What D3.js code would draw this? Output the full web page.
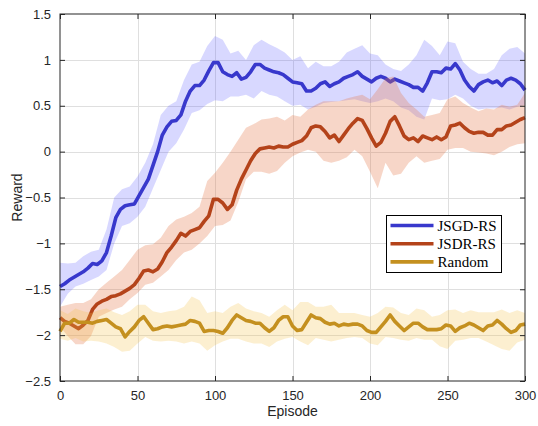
<!DOCTYPE html>
<html>
<head>
<meta charset="utf-8">
<script src="https://cdn.jsdelivr.net/npm/d3@7"></script>
<style>
  html, body { margin: 0; padding: 0; background: #fff; }
  svg { display: block; }
</style>
</head>
<body>
<svg id="chart" width="538" height="426"></svg>
<script>
// episodes for the mean curves (every 3) and for the shaded bands (every 5)
const lineEpisodes = d3.range(0, 301, 3);
const bandEpisodes = d3.range(0, 301, 5);

const seriesNames = ["JSGD-RS", "JSDR-RS", "Random"];

const jsgdMean = [
  -1.47, -1.44, -1.40, -1.37, -1.34, -1.31, -1.27, -1.22, -1.23, -1.19,
  -1.10, -0.92, -0.72, -0.63, -0.59, -0.58, -0.57, -0.48, -0.39, -0.30,
  -0.15, 0.00, 0.18, 0.27, 0.33, 0.34, 0.40, 0.55, 0.66, 0.72,
  0.72, 0.78, 0.88, 0.97, 0.97, 0.87, 0.84, 0.82, 0.86, 0.79,
  0.81, 0.87, 0.95, 0.95, 0.91, 0.89, 0.87, 0.86, 0.84, 0.80,
  0.76, 0.75, 0.74, 0.66, 0.66, 0.69, 0.74, 0.76, 0.71, 0.74,
  0.76, 0.80, 0.82, 0.84, 0.87, 0.82, 0.79, 0.76, 0.80, 0.82,
  0.80, 0.76, 0.79, 0.77, 0.75, 0.73, 0.70, 0.70, 0.66, 0.75,
  0.87, 0.87, 0.86, 0.91, 0.90, 0.96, 0.89, 0.78, 0.71, 0.66,
  0.73, 0.76, 0.78, 0.75, 0.77, 0.72, 0.78, 0.80, 0.78, 0.74,
  0.67
];
const jsgdUpper = [
  -1.21, -1.22, -1.21, -1.14, -1.09, -1.07, -0.85, -0.50, -0.41, -0.38,
  -0.27, -0.12, 0.08, 0.40, 0.50, 0.55, 0.78, 0.95, 0.98, 1.15,
  1.26, 1.22, 1.07, 1.10, 1.00, 1.16, 1.22, 1.17, 1.13, 1.08,
  1.00, 1.04, 0.91, 0.98, 0.93, 0.93, 0.98, 1.08, 1.12, 1.16,
  1.07, 1.05, 0.95, 0.90, 0.88, 0.95, 1.05, 1.22, 1.15, 1.05,
  1.20, 1.18, 0.98, 0.90, 0.85, 0.85, 0.90, 1.05, 1.12, 1.14,
  1.07
];
const jsgdLower = [
  -1.69, -1.55, -1.47, -1.44, -1.40, -1.36, -1.29, -1.00, -0.81, -0.78,
  -0.71, -0.60, -0.40, -0.20, 0.00, 0.09, 0.24, 0.42, 0.45, 0.52,
  0.56, 0.55, 0.60, 0.60, 0.62, 0.58, 0.66, 0.62, 0.60, 0.55,
  0.50, 0.51, 0.46, 0.49, 0.53, 0.54, 0.55, 0.56, 0.57, 0.55,
  0.53, 0.55, 0.58, 0.55, 0.48, 0.45, 0.38, 0.35, 0.58, 0.56,
  0.57, 0.62, 0.58, 0.50, 0.46, 0.47, 0.47, 0.48, 0.46, 0.49,
  0.51
];

const jsdrMean = [
  -1.81, -1.85, -1.87, -1.90, -1.93, -1.89, -1.84, -1.72, -1.66, -1.63,
  -1.61, -1.58, -1.57, -1.55, -1.52, -1.49, -1.45, -1.38, -1.30, -1.29,
  -1.31, -1.28, -1.20, -1.10, -1.04, -0.97, -0.89, -0.92, -0.87, -0.85,
  -0.83, -0.76, -0.70, -0.52, -0.52, -0.56, -0.63, -0.58, -0.42, -0.30,
  -0.20, -0.10, -0.02, 0.03, 0.04, 0.05, 0.04, 0.06, 0.05, 0.05,
  0.08, 0.10, 0.12, 0.17, 0.26, 0.28, 0.27, 0.22, 0.15, 0.18,
  0.11, 0.18, 0.25, 0.31, 0.36, 0.34, 0.25, 0.15, 0.06, 0.10,
  0.20, 0.33, 0.38, 0.28, 0.17, 0.13, 0.15, 0.11, 0.17, 0.15,
  0.13, 0.16, 0.13, 0.16, 0.28, 0.29, 0.31, 0.26, 0.22, 0.20,
  0.21, 0.21, 0.18, 0.18, 0.24, 0.24, 0.28, 0.29, 0.32, 0.35,
  0.37
];
const jsdrUpper = [
  -1.69, -1.67, -1.65, -1.65, -1.61, -1.50, -1.43, -1.36, -1.29, -1.18,
  -1.07, -1.02, -1.01, -0.94, -0.81, -0.74, -0.71, -0.67, -0.60, -0.32,
  -0.23, -0.12, 0.00, 0.13, 0.26, 0.30, 0.35, 0.36, 0.38, 0.34,
  0.40, 0.38, 0.46, 0.51, 0.55, 0.55, 0.55, 0.58, 0.60, 0.62,
  0.57, 0.68, 0.80, 0.82, 0.64, 0.53, 0.46, 0.38, 0.40, 0.42,
  0.57, 0.60, 0.53, 0.48, 0.44, 0.47, 0.46, 0.51, 0.49, 0.51,
  0.64
];
const jsdrLower = [
  -1.91, -2.01, -2.10, -2.10, -2.01, -1.80, -1.76, -1.72, -1.69, -1.61,
  -1.54, -1.45, -1.43, -1.36, -1.29, -1.18, -1.10, -1.07, -1.00, -0.92,
  -0.81, -0.80, -0.75, -0.55, -0.30, -0.22, -0.22, -0.24, -0.21, -0.12,
  -0.05, -0.01, 0.02, 0.00, -0.10, -0.12, -0.10, -0.06, 0.02, -0.05,
  -0.22, -0.40, -0.12, -0.26, -0.24, -0.12, -0.05, -0.12, -0.10, -0.08,
  0.02, 0.04, 0.04, 0.00, -0.01, -0.02, -0.04, 0.00, 0.05, 0.08,
  0.09
];

const randomMean = [
  -1.96, -1.87, -1.87, -1.83, -1.86, -1.86, -1.86, -1.87, -1.85, -1.84,
  -1.83, -1.87, -1.91, -1.93, -2.02, -1.96, -1.91, -1.84, -1.80, -1.87,
  -1.94, -1.93, -1.91, -1.90, -1.91, -1.90, -1.89, -1.88, -1.84, -1.85,
  -1.87, -1.96, -1.95, -1.95, -1.96, -1.98, -1.92, -1.84, -1.78, -1.81,
  -1.84, -1.85, -1.87, -1.87, -1.92, -1.96, -1.92, -1.84, -1.80, -1.80,
  -1.90, -1.95, -1.94, -1.86, -1.78, -1.81, -1.82, -1.86, -1.88, -1.87,
  -1.90, -1.88, -1.89, -1.88, -1.88, -1.90, -1.95, -1.97, -1.97, -1.91,
  -1.85, -1.78, -1.85, -1.90, -1.95, -1.91, -1.87, -1.87, -1.91, -1.94,
  -1.94, -1.94, -1.93, -1.89, -1.90, -1.96, -1.92, -1.90, -1.87, -1.89,
  -1.92, -1.95, -1.90, -1.89, -1.84, -1.88, -1.93, -1.97, -1.95, -1.89,
  -1.88
];
const randomUpper = [
  -1.73, -1.77, -1.71, -1.74, -1.76, -1.73, -1.71, -1.75, -1.78, -1.74,
  -1.67, -1.67, -1.74, -1.76, -1.74, -1.73, -1.69, -1.58, -1.62, -1.76,
  -1.74, -1.76, -1.69, -1.65, -1.71, -1.74, -1.76, -1.80, -1.73, -1.67,
  -1.73, -1.64, -1.64, -1.69, -1.69, -1.67, -1.76, -1.76, -1.76, -1.78,
  -1.80, -1.76, -1.69, -1.70, -1.76, -1.78, -1.71, -1.73, -1.80, -1.78,
  -1.73, -1.72, -1.76, -1.73, -1.75, -1.75, -1.75, -1.72, -1.76, -1.73,
  -1.76
];
const randomLower = [
  -2.04, -2.06, -2.03, -2.07, -2.06, -2.07, -2.09, -2.13, -2.18, -2.17,
  -2.09, -2.02, -2.06, -2.07, -2.06, -2.07, -2.09, -2.07, -2.09, -2.17,
  -2.11, -2.07, -2.04, -2.04, -2.07, -2.09, -2.09, -2.13, -2.07, -2.04,
  -2.02, -2.07, -2.11, -2.03, -2.05, -2.07, -2.05, -2.03, -2.02, -2.03,
  -2.09, -2.11, -2.02, -2.03, -2.05, -2.06, -2.03, -2.05, -2.05, -2.12,
  -2.15, -2.06, -2.05, -2.03, -2.03, -2.07, -2.11, -2.15, -2.17, -2.08,
  -2.05
];

const xTicks = [0, 50, 100, 150, 200, 250, 300];
const yTicks = [-2.5, -2, -1.5, -1, -0.5, 0, 0.5, 1, 1.5];

const series = [
  { name: seriesNames[0], mean: jsgdMean, upper: jsgdUpper, lower: jsgdLower,
    line: "#3838cc", band: "#5c5cff", bandOpacity: 0.24 },
  { name: seriesNames[1], mean: jsdrMean, upper: jsdrUpper, lower: jsdrLower,
    line: "#b4431a", band: "#e4774a", bandOpacity: 0.3 },
  { name: seriesNames[2], mean: randomMean, upper: randomUpper, lower: randomLower,
    line: "#c4901f", band: "#f2c24a", bandOpacity: 0.26 }
];

const margin = { top: 14, right: 13, bottom: 45, left: 60 };
const width = 538, height = 426;
const axisColor = "#262626";
const tickFont = "'Liberation Sans', Arial, Helvetica, sans-serif";

const x = d3.scaleLinear().domain([0, 300]).range([margin.left, width - margin.right]);
const y = d3.scaleLinear().domain([-2.5, 1.5]).range([height - margin.bottom, margin.top]);

const svg = d3.select("#chart");

// grid
const grid = svg.append("g").attr("stroke", "#dfdfdf").attr("stroke-width", 1);
grid.selectAll("line.vx").data(xTicks.slice(1, -1)).join("line")
  .attr("x1", d => Math.round(x(d)) + 0.5).attr("x2", d => Math.round(x(d)) + 0.5)
  .attr("y1", y(1.5)).attr("y2", y(-2.5));
grid.selectAll("line.hy").data(yTicks.slice(1, -1)).join("line")
  .attr("y1", d => Math.round(y(d)) + 0.5).attr("y2", d => Math.round(y(d)) + 0.5)
  .attr("x1", x(0)).attr("x2", x(300));

const plot = svg.append("g");

// bands then lines, one series at a time
series.forEach(s => {
  const area = d3.area()
    .x((d, i) => x(bandEpisodes[i]))
    .y0((d, i) => y(s.lower[i]))
    .y1((d, i) => y(s.upper[i]));
  plot.append("path")
    .datum(s.upper)
    .attr("fill", s.band)
    .attr("fill-opacity", s.bandOpacity)
    .attr("d", area);

  const line = d3.line()
    .x((d, i) => x(lineEpisodes[i]))
    .y(d => y(d));
  plot.append("path")
    .datum(s.mean)
    .attr("fill", "none")
    .attr("stroke", s.line)
    .attr("stroke-width", 3.6)
    .attr("stroke-linejoin", "round")
    .attr("d", line);
});

// axes box with inward ticks on all sides
const tickLen = 5;
const box = svg.append("g").attr("stroke", axisColor).attr("stroke-width", 1).attr("fill", "none");
box.append("rect")
  .attr("x", x(0)).attr("y", y(1.5))
  .attr("width", x(300) - x(0)).attr("height", y(-2.5) - y(1.5));

const xAxisBottom = d3.axisBottom(x).tickValues(xTicks).tickSizeInner(-tickLen).tickSizeOuter(0).tickPadding(10);
const xAxisTop = d3.axisTop(x).tickValues(xTicks).tickSizeInner(-tickLen).tickSizeOuter(0).tickFormat("");
const yAxisLeft = d3.axisLeft(y).tickValues(yTicks).tickSizeInner(-tickLen).tickSizeOuter(0).tickPadding(9)
  .tickFormat(d => d3.format("")(d));
const yAxisRight = d3.axisRight(y).tickValues(yTicks).tickSizeInner(-tickLen).tickSizeOuter(0).tickFormat("");

function styleAxis(g) {
  g.select(".domain").remove();
  g.selectAll(".tick line").attr("stroke", axisColor);
  g.selectAll(".tick text")
    .attr("fill", axisColor)
    .style("font-family", tickFont)
    .style("font-size", "13px");
}

svg.append("g").attr("transform", `translate(0,${y(-2.5)})`).call(xAxisBottom).call(styleAxis);
svg.append("g").attr("transform", `translate(0,${y(1.5)})`).call(xAxisTop).call(styleAxis);
svg.append("g").attr("transform", `translate(${x(0)},0)`).call(yAxisLeft).call(styleAxis);
svg.append("g").attr("transform", `translate(${x(300)},0)`).call(yAxisRight).call(styleAxis);

// axis titles
svg.append("text")
  .attr("x", (x(0) + x(300)) / 2)
  .attr("y", 416)
  .attr("text-anchor", "middle")
  .attr("fill", axisColor)
  .style("font-family", tickFont)
  .style("font-size", "14px")
  .text("Episode");

svg.append("text")
  .attr("transform", `translate(22,${(y(1.5) + y(-2.5)) / 2}) rotate(-90)`)
  .attr("text-anchor", "middle")
  .attr("fill", axisColor)
  .style("font-family", tickFont)
  .style("font-size", "14px")
  .text("Reward");

// legend
const legend = svg.append("g").attr("transform", "translate(386.5,215.5)");
legend.append("rect")
  .attr("width", 115).attr("height", 57)
  .attr("fill", "#fff").attr("stroke", "#000").attr("stroke-width", 1);
const items = legend.selectAll("g.item").data(series).join("g")
  .attr("transform", (d, i) => `translate(0,${10 + i * 18.2})`);
items.append("line")
  .attr("x1", 4).attr("x2", 47)
  .attr("stroke", d => d.line).attr("stroke-width", 3.6);
items.append("text")
  .attr("x", 51).attr("y", 5)
  .attr("fill", "#000")
  .style("font-family", "'Liberation Serif', 'Times New Roman', serif")
  .style("font-size", "15px")
  .text(d => d.name);
</script>
</body>
</html>
